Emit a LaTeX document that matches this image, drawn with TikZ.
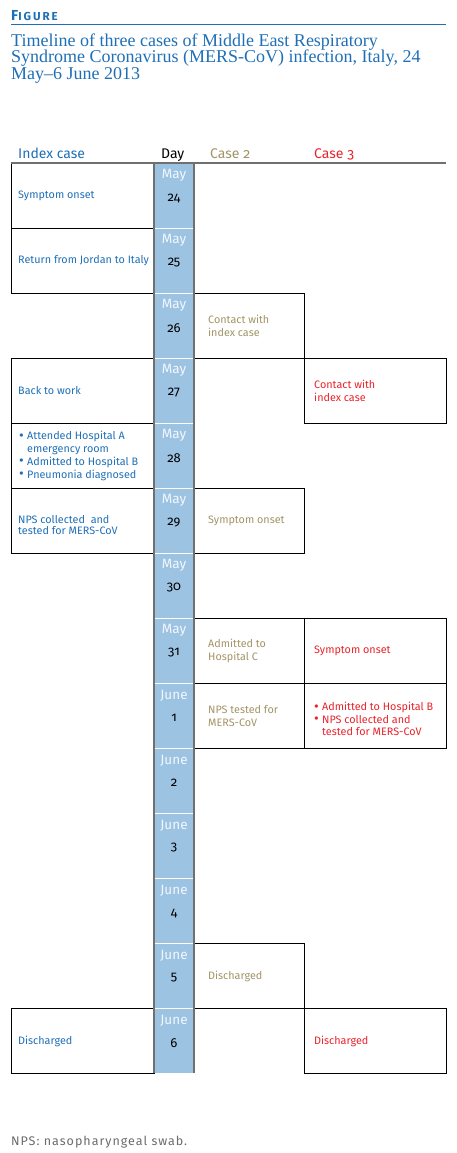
\documentclass[tikz,border=0pt]{standalone}
\usepackage{fontspec}
\setmainfont{Liberation Serif}
\setsansfont{Fira Sans}[Numbers=OldStyle]
\definecolor{idxblue}{HTML}{1F6FB6}
\definecolor{ctwo}{HTML}{A29466}
\definecolor{cthree}{HTML}{E8232B}
\definecolor{daybl}{HTML}{9DC3E3}
\definecolor{daytx}{HTML}{F2F7FC}
\definecolor{rulegray}{HTML}{707070}
\definecolor{foot}{HTML}{6B6B6B}
\newcommand\bul{\makebox[8pt][l]{\raisebox{-0.6pt}{\fontsize{14.5}{0}\selectfont•}}}
\newcommand\nobul{\hspace*{8pt}}
\begin{document}
\begin{tikzpicture}[x=1pt,y=-1pt,
  evbox/.style={draw=black, line width=0.9pt, minimum height=65pt, anchor=north west, inner sep=0pt},
  wI/.style={evbox, minimum width=143pt},
  wII/.style={evbox, minimum width=110pt},
  wIII/.style={evbox, minimum width=141.5pt},
  btxt/.style={anchor=west, align=left, inner sep=0pt, font=\sffamily\fontsize{10.8}{12.7}\selectfont},
  ti/.style={btxt, text=idxblue},
  tii/.style={btxt, text=ctwo},
  tiii/.style={btxt, text=cthree},
  hdr/.style={anchor=base west, inner sep=0pt, font=\sffamily\fontsize{14}{16}\selectfont},
  mon/.style={inner sep=0pt, text=daytx, font=\sffamily\fontsize{13.5}{15}\selectfont},
  dnum/.style={inner sep=0pt, text=black, font=\sffamily\fontsize{13}{15}\selectfont},
  ttl/.style={anchor=base west, inner sep=0pt, text=idxblue, font=\rmfamily\fontsize{18}{19}\selectfont}
]
\useasboundingbox (0,0) rectangle (457,1153);
% header
\node[anchor=base west, inner sep=0pt, text=idxblue, font=\sffamily\bfseries] (fig) at (11,21)
  {\fontsize{14.5}{15}\selectfont F\addfontfeatures{LetterSpace=17}\fontsize{11.6}{12}\selectfont IGURE};
\coordinate (rl) at (11,24.5);
\coordinate (rr) at (445.5,24.5);
\draw[idxblue, line width=1.5pt] (rl) -- (rr);
\node[ttl] (title1) at (11,46.3) {Timeline of three cases of Middle East Respiratory};
\node[ttl] (title2) at (11,63) {Syndrome Coronavirus (MERS-CoV) infection, Italy, 24};
\node[ttl] (title3) at (11,79.7) {May–6 June 2013};
% column headers
\node[hdr, text=idxblue] (hI) at (18,158) {Index case};
\node[hdr, text=black] (hD) at (161,158) {Day};
\node[hdr, text=ctwo] (hII) at (210,158) {Case 2};
\node[hdr, text=cthree] (hIII) at (314,158) {Case 3};
% day column
\fill[daybl] (154,163) rectangle (194,1073);
\foreach \i/\m/\d in {1/May/24,2/May/25,3/May/26,4/May/27,5/May/28,6/May/29,7/May/30,8/May/31,9/June/1,10/June/2,11/June/3,12/June/4,13/June/5,14/June/6}{
  \pgfmathsetmacro\top{163+65*(\i-1)}
  \node[mon] (m\i) at (174,\top+12.5) {\m};
  \node[dnum] (d\i) at (174,\top+35) {\d};
}
\foreach \i in {1,...,13}{
  \pgfmathsetmacro\yy{163+65*\i}
  \coordinate (sa\i) at (155,\yy);
  \coordinate (sb\i) at (193,\yy);
  \draw[white, line width=0.8pt] (sa\i) -- (sb\i);
}
% Index case boxes
\node[wI] (i1) at (11,163) {};
\node[ti] (ti1) at ([xshift=7pt]i1.west) {Symptom onset};
\node[wI] (i2) at (11,228) {};
\node[ti] (ti2) at ([xshift=7pt]i2.west) {Return from Jordan to Italy};
\node[wI] (i4) at (11,358) {};
\node[ti] (ti4) at ([xshift=7pt]i4.west) {Back to work};
\node[wI] (i5) at (11,423) {};
\node[ti] (ti5) at ([xshift=8pt]i5.west) {\bul Attended Hospital A\\\nobul emergency room\\\bul Admitted to Hospital B\\\bul Pneumonia diagnosed};
\node[wI] (i6) at (11,488) {};
\node[ti, font=\sffamily\fontsize{10.8}{11.5}\selectfont] (ti6) at ([xshift=7pt,yshift=-4pt]i6.west) {NPS collected\ \ and\\tested for MERS-CoV};
\node[wI] (i14) at (11,1008) {};
\node[ti] (ti14) at ([xshift=7pt]i14.west) {Discharged};
% Case 2 boxes
\node[wII] (c3) at (194,293) {};
\node[tii] (tc3) at ([xshift=14pt]c3.west) {Contact with\\index case};
\node[wII] (c6) at (194,488) {};
\node[tii] (tc6) at ([xshift=14pt]c6.west) {Symptom onset};
\node[wII] (c8) at (194,618) {};
\node[tii] (tc8) at ([xshift=14pt]c8.west) {Admitted to\\Hospital C};
\node[wII] (c9) at (194,683) {};
\node[tii] (tc9) at ([xshift=14pt]c9.west) {NPS tested for\\MERS-CoV};
\node[wII] (c13) at (194,943) {};
\node[tii] (tc13) at ([xshift=14pt]c13.west) {Discharged};
% Case 3 boxes
\node[wIII] (e4) at (304,358) {};
\node[tiii] (te4) at ([xshift=10pt]e4.west) {Contact with\\index case};
\node[wIII] (e8) at (304,618) {};
\node[tiii] (te8) at ([xshift=10pt]e8.west) {Symptom onset};
\node[wIII] (e9) at (304,683) {};
\node[tiii] (te9) at ([xshift=10pt,yshift=-3pt]e9.west) {\bul Admitted to Hospital B\\\bul NPS collected and\\\nobul tested for MERS-CoV};
\node[wIII] (e14) at (304,1008) {};
\node[tiii] (te14) at ([xshift=10pt]e14.west) {Discharged};
% day column borders
\coordinate (dl1) at (154,163);
\coordinate (dl2) at (154,1073);
\coordinate (dr1) at (194,163);
\coordinate (dr2) at (194,1073);
\draw[rulegray, line width=1.8pt] (dl1) -- (dl2);
\draw[rulegray, line width=1.8pt] (dr1) -- (dr2);
% top rule
\coordinate (tl) at (11,163);
\coordinate (tr) at (445.5,163);
\draw[rulegray, line width=1.5pt] (tl) -- (tr);
% footer
\node[anchor=base west, inner sep=0pt, text=foot, font=\sffamily\fontsize{12.5}{14}\selectfont] (foot) at (11,1145)
  {\addfontfeatures{LetterSpace=8}NPS: nasopharyngeal swab.};
\end{tikzpicture}
\end{document}
